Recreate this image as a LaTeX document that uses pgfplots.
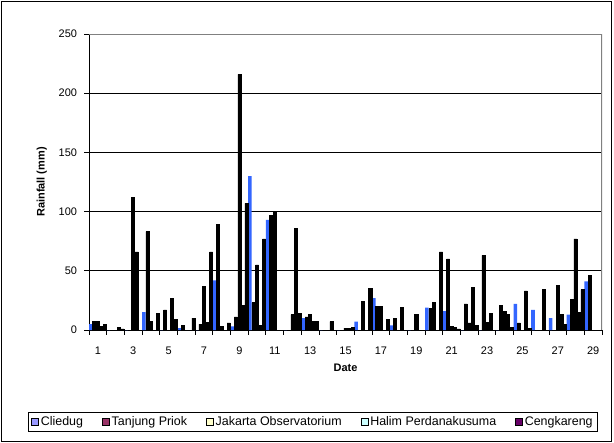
\documentclass[border=0pt]{standalone}
\usepackage{pgfplots}
\usepackage{pgfplotstable}
\pgfplotsset{compat=1.18}
\usepackage{fontspec}
\setmainfont{Liberation Sans}

\definecolor{cliedug}{HTML}{3366FF}
\definecolor{cliedugL}{HTML}{9999FF}
\definecolor{tanjung}{HTML}{993366}
\definecolor{jakarta}{HTML}{FFFFCC}
\definecolor{halim}{HTML}{CCFFFF}
\definecolor{cengkareng}{HTML}{660066}

% daily rainfall (mm) per station
\pgfplotstableread{
day cli tan jak hal cen
1   5   7   7   3   5
2   0   0   0   2   1
3   0   0   112 66  0
4   15  83  7   0   14
5   0   17  0   27  9
6   1.5 4   0   0   10
7   0   5   37  6.5 66
8   42  89  3   0   6
9   3   11  216 21  107
10  130 23  55  4   77
11  93  97  100 0   0
12  0   0   13  86  14
13  10  11  13  7   7
14  0   0   0   7   0
15  0   0   1.5 1.5 2
16  7   0   24  0   35
17  27  20  20  0   9
18  4   10  0   19  0
19  0   0   13  0   0
20  19  18  23  0   66
21  16  60  3   2   1
22  0   22  6   36  4
23  0   63  6.5 14  0
24  0   21  16  13  2
25  22  6   0   33  1.5
26  17  0   0   34  0
27  10  0   38  13  5
28  13  26  77  15  34
29  41  46  0   0   0
}\rain

\begin{document}
\begin{tikzpicture}
\begin{axis}[
  scale only axis, width=513bp, height=296bp,
  xmin=0.5, xmax=29.5, ymin=0, ymax=250,
  ybar=0pt, bar width=3.54bp,
  xtick={0.5,1.5,...,29.5}, xticklabel={\relax},
  extra x ticks={1,3,...,29},
  extra x tick style={major tick length=0pt, grid=none,
    xticklabel={\pgfmathprintnumber{\tick}},
    xticklabel style={yshift=-13bp}},
  ytick={0,50,...,250},
  yticklabel style={xshift=-4bp},
  ymajorgrids, grid style={black, line width=0.9bp},
  tick align=outside, major tick length=4.5bp,
  tick style={black, line width=0.8bp},
  axis x line*=bottom, axis y line*=left,
  axis line style={black, line width=1bp},
  /pgf/number format/assume math mode=true,
  ticklabel style={font=\fontsize{11}{12}\selectfont},
  xlabel={\bfseries Date}, ylabel={\bfseries Rainfall (mm)},
  label style={font=\fontsize{11}{12}\selectfont},
  xlabel style={at={(axis description cs:0.5,-0.128)}, anchor=center},
  ylabel style={at={(axis description cs:-0.092,0.5)}, anchor=center},
  legend columns=5,
  legend style={at={(axis description cs:0.4366,-0.311)}, anchor=center,
    draw=black, line width=0.8bp, inner xsep=3bp, inner ysep=2bp,
    font=\fontsize{12.5}{14}\selectfont,
    /tikz/every even column/.append style={column sep=17bp}},
  legend image code/.code={\draw[#1, line width=0.6bp] (0bp,-3.5bp) rectangle (7bp,3.5bp);},
]
\addlegendimage{fill=cliedugL, draw=black}
\addlegendimage{fill=tanjung, draw=black}
\addlegendimage{fill=jakarta, draw=black}
\addlegendimage{fill=halim, draw=black}
\addlegendimage{fill=cengkareng, draw=black}

\addplot[forget plot, fill=cliedug, draw=none, bar shift=-7.08bp] table[x=day, y=cli] {\rain};
\addplot[forget plot, fill=black, draw=black, line width=0.6bp, bar width=3.1bp, bar shift=-3.54bp] table[x=day, y=tan] {\rain};
\addplot[forget plot, fill=black, draw=black, line width=0.6bp, bar width=3.1bp, bar shift=0bp] table[x=day, y=jak] {\rain};
\addplot[forget plot, fill=black, draw=black, line width=0.6bp, bar width=3.1bp, bar shift=3.54bp] table[x=day, y=hal] {\rain};
\addplot[forget plot, fill=black, draw=black, line width=0.6bp, bar width=3.1bp, bar shift=7.08bp] table[x=day, y=cen] {\rain};

\draw[gray, line width=1.2bp] (rel axis cs:0,1) -- (rel axis cs:1,1) -- (rel axis cs:1,0);
\coordinate (sw) at (rel axis cs:0,0);
\legend{Cliedug, Tanjung Priok, Jakarta Observatorium, Halim Perdanakusuma, Cengkareng}
\end{axis}
\draw[black, line width=0.8bp] ([shift={(-88bp,-111bp)}]sw) rectangle ([shift={(522.5bp,329bp)}]sw);
\pgfresetboundingbox
\useasboundingbox ([shift={(-89bp,-113bp)}]sw) rectangle ([shift={(525bp,330bp)}]sw);
\end{tikzpicture}
\end{document}
